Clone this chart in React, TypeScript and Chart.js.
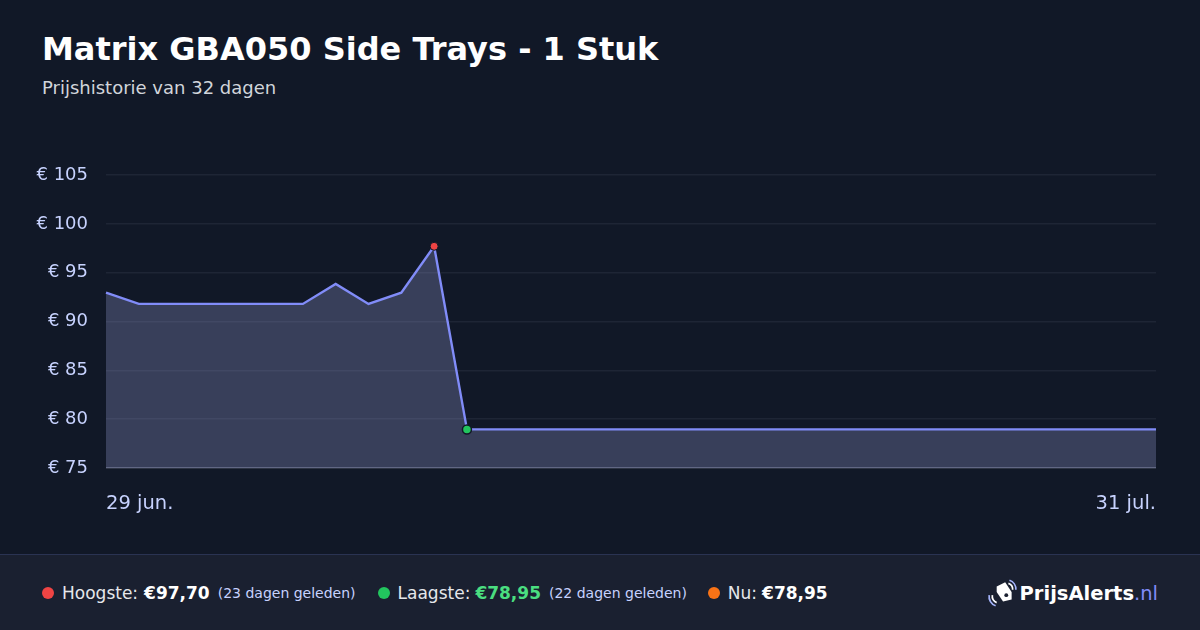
import React, { useEffect, useRef } from "react";
import { Chart, registerables } from "chart.js";

Chart.register(...registerables);

const titleText = "Matrix GBA050 Side Trays - 1 Stuk";
const subtitleText = "Prijshistorie van 32 dagen";

const dateLabels = [
  "29 jun.", "30 jun.", "1 jul.", "2 jul.", "3 jul.", "4 jul.", "5 jul.", "6 jul.",
  "7 jul.", "8 jul.", "9 jul.", "10 jul.", "11 jul.", "12 jul.", "13 jul.", "14 jul.",
  "15 jul.", "16 jul.", "17 jul.", "18 jul.", "19 jul.", "20 jul.", "21 jul.", "22 jul.",
  "23 jul.", "24 jul.", "25 jul.", "26 jul.", "27 jul.", "28 jul.", "29 jul.", "30 jul.",
  "31 jul.",
];

const prices = [
  92.95, 91.8, 91.8, 91.8, 91.8, 91.8, 91.8, 93.85, 91.8, 92.95, 97.7,
  78.95, 78.95, 78.95, 78.95, 78.95, 78.95, 78.95, 78.95, 78.95, 78.95, 78.95,
  78.95, 78.95, 78.95, 78.95, 78.95, 78.95, 78.95, 78.95, 78.95, 78.95, 78.95,
];

const yMin = 75;
const yMax = 105;
const yStep = 5;

const highIndex = 10;
const lowIndex = 11;

const highestValue = "€97,70";
const highestAgo = "(23 dagen geleden)";
const lowestValue = "€78,95";
const lowestAgo = "(22 dagen geleden)";
const currentValue = "€78,95";

const FONT = "'DejaVu Sans', sans-serif";

function PriceChart() {
  const ref = useRef<HTMLCanvasElement | null>(null);
  useEffect(() => {
    if (!ref.current) return;
    const chart = new Chart(ref.current, {
      type: "line",
      data: {
        labels: dateLabels,
        datasets: [
          {
            data: prices,
            borderColor: "#818cf8",
            borderWidth: 2.4,
            backgroundColor: "rgba(150,155,210,0.3)",
            fill: "start",
            tension: 0,
            pointRadius: prices.map((_, i) => (i === highIndex ? 4 : i === lowIndex ? 4.5 : 0)),
            pointBackgroundColor: prices.map((_, i) =>
              i === highIndex ? "#ef4444" : i === lowIndex ? "#22c55e" : "#818cf8"
            ),
            pointBorderColor: "#111827",
            pointBorderWidth: prices.map((_, i) => (i === lowIndex ? 1.5 : 1)),
            pointHoverRadius: 0,
          },
        ],
      },
      options: {
        animation: false,
        responsive: false,
        maintainAspectRatio: false,
        layout: { padding: { top: 55, right: 44, left: 0, bottom: 0 } },
        plugins: { legend: { display: false }, tooltip: { enabled: false } },
        scales: {
          x: {
            grid: { display: false, drawTicks: false },
            border: { display: false },
            afterFit: (s: any) => {
              s.height = 86;
            },
            ticks: {
              autoSkip: false,
              maxRotation: 0,
              minRotation: 0,
              align: "inner",
              padding: 24,
              color: "#c7d2fe",
              font: { family: FONT, size: 19.5 },
              callback: (_v: any, i: number) =>
                i === 0 || i === dateLabels.length - 1 ? dateLabels[i] : "",
            },
          },
          y: {
            min: yMin,
            max: yMax,
            border: { display: false },
            afterFit: (s: any) => {
              s.width = 106;
            },
            grid: {
              drawTicks: false,
              lineWidth: 1.5,
              color: (c: any) => (c.tick && c.tick.value === yMin ? "#4b5163" : "#1e2535"),
            },
            ticks: {
              stepSize: yStep,
              padding: 18,
              color: "#c7d2fe",
              font: { family: FONT, size: 18 },
              callback: (v: any) => "€ " + v,
            },
          },
        },
      },
    });
    return () => chart.destroy();
  }, []);
  return <canvas ref={ref} width={1200} height={434} style={{ width: 1200, height: 434, display: "block" }} />;
}

function Dot({ color }: { color: string }) {
  return (
    <span
      style={{
        display: "inline-block",
        width: 12,
        height: 12,
        borderRadius: "50%",
        background: color,
        marginRight: 8,
        flex: "0 0 auto",
      }}
    />
  );
}

function Logo() {
  return (
    <div style={{ position: "absolute", right: 42, top: 0, height: 76, display: "flex", alignItems: "center" }}>
      <svg width="32" height="32" viewBox="0 0 30 30" style={{ marginRight: 2 }}>
        <path d="M10 9 L18 5 L24 14 L24 21 L16 23 L10 14 Z" fill="#ffffff" />
        <circle cx="19" cy="17" r="1.8" fill="#1a2030" />
        <path d="M22 3 A9 9 0 0 1 28 12" stroke="#a5b4fc" strokeWidth="1.6" fill="none" />
        <path d="M21 6 A6 6 0 0 1 25 12" stroke="#ffffff" strokeWidth="1.6" fill="none" />
        <path d="M3 17 A9 9 0 0 0 9 27" stroke="#a5b4fc" strokeWidth="1.6" fill="none" />
        <path d="M6 17 A6 6 0 0 0 10 24" stroke="#ffffff" strokeWidth="1.6" fill="none" />
      </svg>
      <span style={{ fontFamily: FONT, fontSize: 19.5, fontWeight: 700, color: "#ffffff" }}>PrijsAlerts</span>
      <span style={{ fontFamily: FONT, fontSize: 19.5, color: "#818cf8" }}>.nl</span>
    </div>
  );
}

export default function App() {
  useEffect(() => {
    document.body.style.margin = "0";
    document.body.style.background = "#111827";
  }, []);
  const label: React.CSSProperties = { color: "#e5e7eb", fontSize: 17 };
  const value: React.CSSProperties = { color: "#ffffff", fontSize: 17, fontWeight: 700, marginLeft: 6 };
  const ago: React.CSSProperties = { color: "#c7d2fe", fontSize: 14, marginLeft: 8 };
  return (
    <div
      style={{
        position: "fixed",
        left: 0,
        top: 0,
        width: 1200,
        height: 630,
        background: "#111827",
        fontFamily: FONT,
        overflow: "hidden",
      }}
    >
      <div
        style={{
          position: "absolute",
          left: 42,
          top: 33,
          fontSize: 32,
          lineHeight: "32px",
          fontWeight: 700,
          color: "#ffffff",
          whiteSpace: "nowrap",
        }}
      >
        {titleText}
      </div>
      <div
        style={{
          position: "absolute",
          left: 42,
          top: 79,
          fontSize: 18,
          lineHeight: "18px",
          color: "#d1d5db",
          whiteSpace: "nowrap",
        }}
      >
        {subtitleText}
      </div>
      <div style={{ position: "absolute", left: 0, top: 120, width: 1200, height: 434 }}>
        <PriceChart />
      </div>
      <div
        style={{
          position: "absolute",
          left: 0,
          top: 554,
          width: 1200,
          height: 76,
          background: "#1a2030",
          borderTop: "1px solid #2a3352",
          boxSizing: "border-box",
        }}
      >
        <div
          style={{
            position: "absolute",
            left: 42,
            top: 0,
            height: 75,
            display: "flex",
            alignItems: "center",
            whiteSpace: "nowrap",
          }}
        >
          <Dot color="#ef4444" />
          <span style={label}>Hoogste:</span>
          <span style={value}>{highestValue}</span>
          <span style={ago}>{highestAgo}</span>
          <span style={{ width: 22 }} />
          <Dot color="#22c55e" />
          <span style={label}>Laagste:</span>
          <span style={{ ...value, color: "#4ade80", marginLeft: 5 }}>{lowestValue}</span>
          <span style={ago}>{lowestAgo}</span>
          <span style={{ width: 21 }} />
          <Dot color="#f97316" />
          <span style={label}>Nu:</span>
          <span style={{ ...value, marginLeft: 5 }}>{currentValue}</span>
        </div>
        <Logo />
      </div>
    </div>
  );
}
